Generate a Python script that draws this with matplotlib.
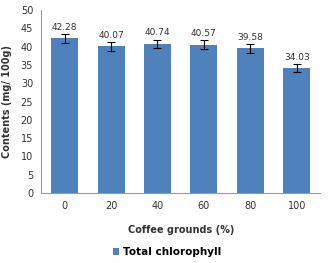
import matplotlib.pyplot as plt
import numpy as np

categories = ['0', '20', '40', '60', '80', '100']
values = [42.28, 40.07, 40.74, 40.57, 39.58, 34.03]
errors = [1.2, 1.2, 1.2, 1.2, 1.2, 1.1]

blue = '#4F81BD'

fig = plt.figure(figsize=(3.34, 2.63), dpi=100)
ax = fig.add_axes([0.124, 0.266, 0.834, 0.696])

x = np.arange(len(categories))
ax.bar(x, values, width=0.58, color=blue, label='Total chlorophyll', zorder=2)
ax.errorbar(x, values, yerr=errors, fmt='none', ecolor='black', elinewidth=0.8,
            capsize=3, capthick=0.8, zorder=3)
for xi, v, e in zip(x, values, errors):
    ax.text(xi, v + e + 0.6, f'{v:.2f}', ha='center', va='bottom', fontsize=6.5, color='#333333')

ax.set_xlim(-0.5, len(categories) - 0.5)
ax.set_ylim(0, 50)
ax.set_yticks(range(0, 51, 5))
ax.set_xticks(x)
ax.set_xticklabels(categories)
ax.tick_params(axis='both', length=0, labelsize=7, colors='#333333', pad=6)
for s in ['top', 'right']:
    ax.spines[s].set_visible(False)
for s in ['left', 'bottom']:
    ax.spines[s].set_color('#999999')
    ax.spines[s].set_linewidth(0.8)

ax.set_xlabel('Coffee grounds (%)', fontsize=7, fontweight='bold', color='#333333', labelpad=10)
ax.set_ylabel('Contents (mg/ 100g)', fontsize=7, fontweight='bold', color='#333333', labelpad=6)

fig.legend(loc='center', bbox_to_anchor=(0.5, 0.042), frameon=False,
           prop={'weight': 'bold', 'size': 7.5}, handlelength=0.6, handleheight=0.6,
           handletextpad=0.4, borderpad=0.1)

fig.savefig('out.png', dpi=100)
